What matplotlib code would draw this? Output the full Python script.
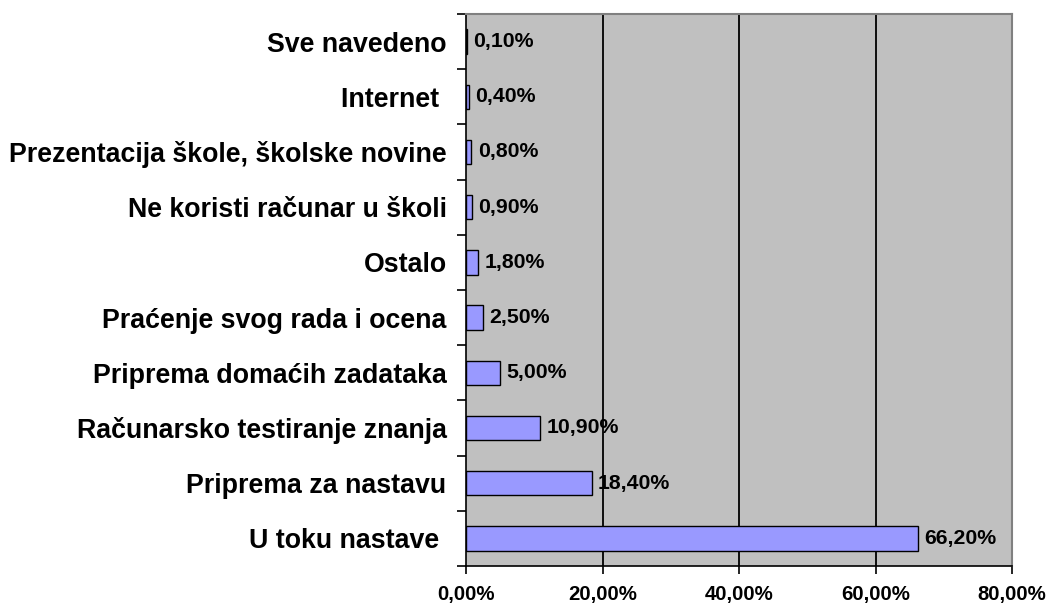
import matplotlib
matplotlib.use("Agg")
import matplotlib.pyplot as plt
import numpy as np

# Data (bottom to top)
categories = ["U toku nastave ", "Priprema za nastavu", "Računarsko testiranje znanja",
              "Priprema domaćih zadataka", "Praćenje svog rada i ocena", "Ostalo",
              "Ne koristi računar u školi", "Prezentacija škole, školske novine",
              "Internet ", "Sve navedeno"]
values = [66.2, 18.4, 10.9, 5.0, 2.5, 1.8, 0.9, 0.8, 0.4, 0.1]
x_ticks = [0, 20, 40, 60, 80]

plt.rcParams["font.family"] = ["Liberation Sans", "DejaVu Sans"]
plt.rcParams["font.weight"] = "bold"

fig = plt.figure(figsize=(10.52, 6.07), dpi=100)
ax = fig.add_axes([466 / 1052, 41 / 607, 546 / 1052, 552 / 607])
ax.set_facecolor("#C0C0C0")

y = np.arange(len(categories))
ax.barh(y, values, height=0.44, color="#9999FF", edgecolor="black", linewidth=1, zorder=3)

# gridlines
for gx in x_ticks[1:-1]:
    ax.axvline(gx, color="black", linewidth=1.3, zorder=1)

# data labels
for yi, v in zip(y, values):
    ax.annotate(f"{v:.2f}%".replace(".", ","), xy=(v, yi), xytext=(4.5, 0),
                textcoords="offset points", va="center", ha="left",
                fontsize=15.3, fontweight="bold", zorder=4)

ax.set_xlim(0, 80)
ax.set_ylim(-0.5, len(categories) - 0.5)

ax.set_xticks(x_ticks)
ax.set_xticklabels([f"{t:.2f}%".replace(".", ",") for t in x_ticks],
                   fontsize=14.7, fontweight="bold")
ax.tick_params(axis="x", length=6, width=1.2, pad=8)

ax.set_yticks(y)
ax.set_yticklabels(categories, fontsize=19.3, fontweight="bold")
ax.tick_params(axis="y", which="major", length=0, pad=14)
ax.set_yticks(np.arange(-0.5, len(categories), 1), minor=True)
ax.tick_params(axis="y", which="minor", length=6.5, width=1.2)

for side in ["top", "right"]:
    ax.spines[side].set_color("#808080")
    ax.spines[side].set_linewidth(1.5)
for side in ["left", "bottom"]:
    ax.spines[side].set_color("black")
    ax.spines[side].set_linewidth(1.2)

fig.savefig("out.png", dpi=100)
